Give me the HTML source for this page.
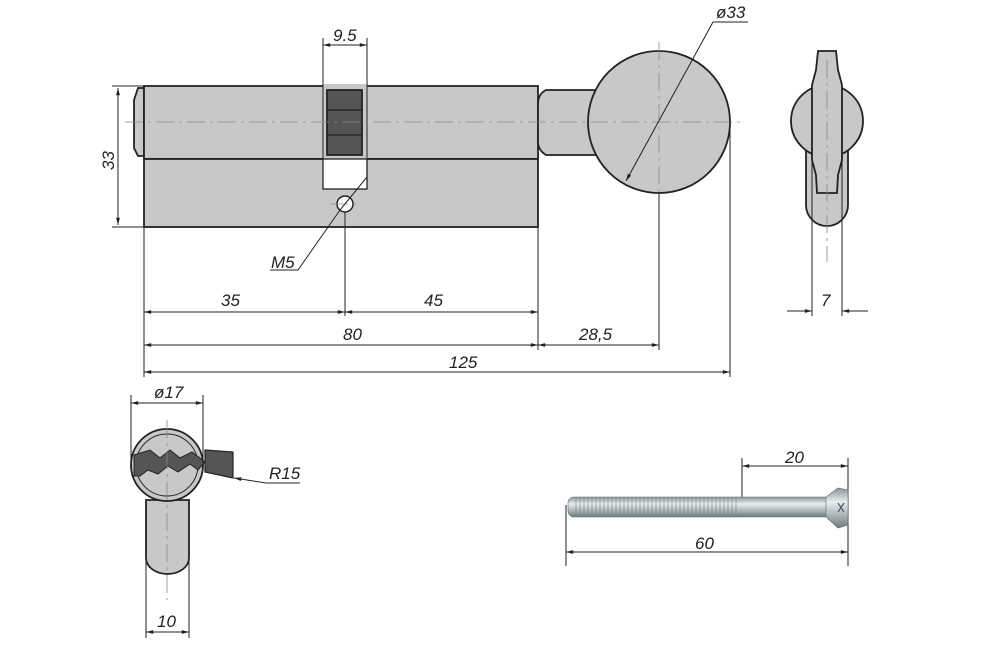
<!DOCTYPE html>
<html><head><meta charset="utf-8"><style>
html,body{margin:0;padding:0;background:#fff;width:990px;height:660px;overflow:hidden}
text{font-family:"Liberation Sans",sans-serif;font-style:italic;font-size:17px;fill:#222}
</style></head><body>
<svg width="990" height="660" viewBox="0 0 990 660" xmlns="http://www.w3.org/2000/svg">
<defs>
<marker id="a" viewBox="0 0 12 10" refX="12" refY="5" markerWidth="11" markerHeight="6" orient="auto-start-reverse" markerUnits="userSpaceOnUse"><path d="M0,1.8 L12,5 L0,8.2 z" fill="#222"/></marker>
<linearGradient id="scr" x1="0" y1="0" x2="0" y2="1"><stop offset="0" stop-color="#8a9698"/><stop offset="0.35" stop-color="#e8eeee"/><stop offset="0.7" stop-color="#a8b2b4"/><stop offset="1" stop-color="#6e7a7c"/></linearGradient>
</defs>
<g stroke="#222" stroke-width="1.8" fill="#c8c8c8">
<path d="M144,88 L138,88 L134,100 L134,148 L138,156 L144,156 Z"/>
<rect x="144" y="86" width="394" height="73"/>
<rect x="144" y="159" width="394" height="68"/>
<rect x="323" y="84" width="44" height="76" fill="#c8c8c8" stroke="none"/>
<rect x="323" y="159" width="44" height="30" fill="#fff" stroke-width="1.3"/>
<line x1="323" y1="86" x2="323" y2="159" stroke-width="1"/>
<line x1="367" y1="86" x2="367" y2="159" stroke-width="1"/>
<rect x="327" y="90" width="35" height="65" fill="#555"/>
<line x1="327" y1="110" x2="362" y2="110" stroke-width="1.2"/>
<line x1="327" y1="135" x2="362" y2="135" stroke-width="1.2"/>
<circle cx="345" cy="204" r="8" fill="#fff" stroke-width="1.5"/>
<path d="M546,90 L600,90 L600,155 L546,155 Q538,150 538,142 L538,104 Q538,94 546,90 Z"/>
<circle cx="659" cy="122" r="71"/>
<path d="M806,150 L806,205 A21,21 0 0 0 848,205 L848,150 Z"/>
<circle cx="827" cy="121" r="36"/>
<path d="M818,51 L836,51 L838,70 L842,85 L842,160 L838,175 L837,193 L817,193 L816,175 L812,160 L812,85 L816,70 Z"/>
<path d="M146,500 L146,558 A21.5,16 0 0 0 189,558 L189,500 Z"/>
<circle cx="167" cy="465" r="36"/>
<circle cx="167" cy="465" r="31" stroke-width="1"/>
<path d="M134,455 L150,450 L160,458 L170,450 L180,458 L192,452 L205,462 L198,470 L190,464 L178,472 L168,466 L158,474 L148,470 L140,476 L134,476 Z" fill="#555" stroke-width="1"/>
<path d="M205,450 L233,452 L233,478 L205,472 Z" fill="#555" stroke-width="1.2"/>
</g>
<g stroke="#888" stroke-width="0.8" stroke-dasharray="18,5,3,5" fill="none">
<line x1="125" y1="122" x2="745" y2="122"/>
<line x1="659" y1="42" x2="659" y2="200"/>
<line x1="827" y1="60" x2="827" y2="262"/>
<line x1="167" y1="420" x2="167" y2="600"/>
<line x1="330" y1="204" x2="360" y2="204"/>
</g>
<g stroke="#222" stroke-width="1" fill="none">
<line x1="112" y1="86" x2="144" y2="86"/><line x1="112" y1="227" x2="144" y2="227"/>
<line x1="118" y1="88" x2="118" y2="225" marker-start="url(#a)" marker-end="url(#a)"/>
<line x1="323" y1="38" x2="323" y2="86"/><line x1="367" y1="38" x2="367" y2="86"/>
<line x1="323" y1="45" x2="367" y2="45" marker-start="url(#a)" marker-end="url(#a)"/>
<line x1="144" y1="227" x2="144" y2="377"/><line x1="345" y1="212" x2="345" y2="316"/>
<line x1="538" y1="155" x2="538" y2="350"/><line x1="659" y1="193" x2="659" y2="350"/>
<line x1="730" y1="122" x2="730" y2="377"/>
<line x1="144" y1="312" x2="345" y2="312" marker-start="url(#a)" marker-end="url(#a)"/>
<line x1="345" y1="312" x2="538" y2="312" marker-start="url(#a)" marker-end="url(#a)"/>
<line x1="144" y1="345" x2="538" y2="345" marker-start="url(#a)" marker-end="url(#a)"/>
<line x1="538" y1="345" x2="659" y2="345" marker-start="url(#a)" marker-end="url(#a)"/>
<line x1="144" y1="372" x2="730" y2="372" marker-start="url(#a)" marker-end="url(#a)"/>
<polyline points="270,270 298,270 340,210 367,177"/>
<line x1="713" y1="22" x2="626" y2="181" marker-end="url(#a)"/>
<line x1="713" y1="22" x2="748" y2="22"/>
<line x1="812" y1="160" x2="812" y2="316"/><line x1="842" y1="160" x2="842" y2="316"/>
<line x1="787" y1="311" x2="812" y2="311" marker-end="url(#a)"/>
<line x1="868" y1="311" x2="842" y2="311" marker-end="url(#a)"/>
<line x1="131" y1="395" x2="131" y2="465"/><line x1="203" y1="395" x2="203" y2="465"/>
<line x1="131" y1="403" x2="203" y2="403" marker-start="url(#a)" marker-end="url(#a)"/>
<line x1="146" y1="560" x2="146" y2="638"/><line x1="189" y1="560" x2="189" y2="638"/>
<line x1="146" y1="632" x2="189" y2="632" marker-start="url(#a)" marker-end="url(#a)"/>
<polyline points="300,483 266,483 234,478" marker-end="url(#a)"/>
<line x1="742" y1="458" x2="742" y2="498"/><line x1="848" y1="458" x2="848" y2="566"/>
<line x1="742" y1="466" x2="848" y2="466" marker-start="url(#a)" marker-end="url(#a)"/>
<line x1="566" y1="505" x2="566" y2="566"/>
<line x1="566" y1="552" x2="848" y2="552" marker-start="url(#a)" marker-end="url(#a)"/>
</g>
<rect x="568" y="497" width="262" height="20" rx="6" fill="url(#scr)" stroke="#667" stroke-width="0.6"/>
<g stroke="#7a8486" stroke-width="0.6">
<path d="M576,497 v20 M580,497 v20 M584,497 v20 M588,497 v20 M592,497 v20 M596,497 v20 M600,497 v20 M604,497 v20 M608,497 v20 M612,497 v20 M616,497 v20 M620,497 v20 M624,497 v20 M628,497 v20 M632,497 v20 M636,497 v20 M640,497 v20 M644,497 v20 M648,497 v20 M652,497 v20 M656,497 v20 M660,497 v20 M664,497 v20 M668,497 v20 M672,497 v20 M676,497 v20 M680,497 v20 M684,497 v20 M688,497 v20 M692,497 v20 M696,497 v20 M700,497 v20 M704,497 v20 M708,497 v20 M712,497 v20 M716,497 v20 M720,497 v20 M724,497 v20 M728,497 v20 M732,497 v20 M736,497 v20"/>
</g>
<path d="M826,497 L838,488 L848,490 L848,525 L838,528 L826,517 Z" fill="url(#scr)" stroke="#667" stroke-width="0.6"/>
<path d="M838,503 L844,512 M844,503 L838,512" stroke="#556" stroke-width="1.2"/>
<text x="333" y="41">9.5</text>
<text transform="translate(114,170) rotate(-90)">33</text>
<text x="271" y="268">M5</text>
<text x="221" y="306">35</text>
<text x="424" y="306">45</text>
<text x="343" y="340">80</text>
<text x="579" y="340">28,5</text>
<text x="449" y="368">125</text>
<text x="716" y="18">ø33</text>
<text x="821" y="306">7</text>
<text x="154" y="398">ø17</text>
<text x="269" y="479">R15</text>
<text x="157" y="627">10</text>
<text x="785" y="463">20</text>
<text x="695" y="549">60</text>
</svg>
</body></html>
